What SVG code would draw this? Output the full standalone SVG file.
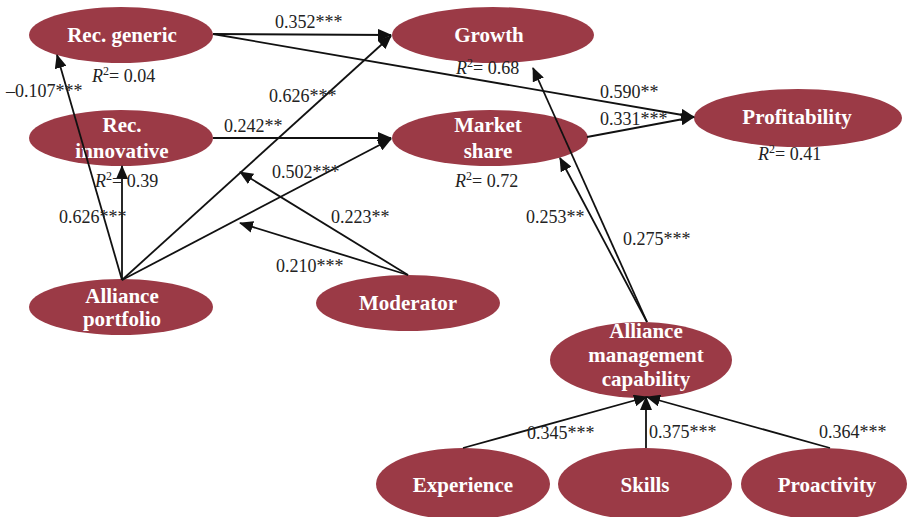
<svg xmlns="http://www.w3.org/2000/svg" width="908" height="517" viewBox="0 0 908 517">
<defs>
<marker id="ah" markerUnits="userSpaceOnUse" markerWidth="14" markerHeight="12" viewBox="0 0 14 12" refX="13" refY="6" orient="auto">
<path d="M0,0 L14,6 L0,12 Z" fill="#111"/>
</marker>
<style>
.node ellipse{fill:#9b3a46;}
.node text{font-family:'Liberation Serif','DejaVu Serif',serif;font-weight:bold;font-size:21px;fill:#fff;text-anchor:middle;}
.conn line{stroke:#111;stroke-width:1.8;fill:none;}
.conn line.a{marker-end:url(#ah);}
.lbl{font-family:'Liberation Serif','DejaVu Serif',serif;font-size:18px;fill:#222;}
.r2{font-family:'Liberation Serif','DejaVu Serif',serif;font-size:18px;fill:#222;}
</style>
</defs>
<rect width="908" height="517" fill="#fff"/>

<g id="rec-generic" class="node"><ellipse cx="121" cy="35" rx="92" ry="28"/><text x="122" y="42">Rec. generic</text></g>
<g id="rec-innovative" class="node"><ellipse cx="121" cy="138" rx="92" ry="28"/><text x="122" y="132">Rec.</text><text x="122" y="158">innovative</text></g>
<g id="growth" class="node"><ellipse cx="493" cy="35" rx="101" ry="28"/><text x="489" y="42">Growth</text></g>
<g id="market-share" class="node"><ellipse cx="490" cy="138" rx="98" ry="28"/><text x="488" y="132">Market</text><text x="488" y="158">share</text></g>
<g id="profitability" class="node"><ellipse cx="798" cy="118" rx="104" ry="29"/><text x="797" y="124">Profitability</text></g>
<g id="alliance-portfolio" class="node"><ellipse cx="121" cy="307" rx="92" ry="28"/><text x="122" y="303">Alliance</text><text x="122" y="326">portfolio</text></g>
<g id="moderator" class="node"><ellipse cx="408" cy="303" rx="92" ry="28"/><text x="408" y="310">Moderator</text></g>
<g id="amc" class="node"><ellipse cx="641" cy="360" rx="91" ry="38"/><text x="646" y="338">Alliance</text><text x="646" y="362">management</text><text x="646" y="386">capability</text></g>
<g id="experience" class="node"><ellipse cx="463" cy="484" rx="87" ry="36"/><text x="463" y="492">Experience</text></g>
<g id="skills" class="node"><ellipse cx="645" cy="484" rx="87" ry="36"/><text x="645" y="492">Skills</text></g>
<g id="proactivity" class="node"><ellipse cx="824" cy="484" rx="83" ry="36"/><text x="827" y="492">Proactivity</text></g>

<g id="connectors" class="conn">
<line class="a" x1="213" y1="34" x2="391" y2="35"/>
<line class="a" x1="213" y1="34" x2="694" y2="117"/>
<line class="a" x1="213" y1="138" x2="391" y2="138"/>
<line class="a" x1="587" y1="137" x2="694" y2="117"/>
<line class="a" x1="122" y1="280" x2="57" y2="55"/>
<line class="a" x1="122" y1="280" x2="122" y2="166"/>
<line class="a" x1="122" y1="280" x2="391" y2="36"/>
<line class="a" x1="122" y1="280" x2="391" y2="139"/>
<line class="a" x1="408" y1="275" x2="240" y2="172"/>
<line class="a" x1="408" y1="275" x2="240" y2="223"/>
<line class="a" x1="647" y1="322" x2="533" y2="68"/>
<line class="a" x1="647" y1="322" x2="560" y2="158"/>
<line class="a" x1="463" y1="448" x2="647" y2="397"/>
<line class="a" x1="646" y1="448" x2="646" y2="397"/>
<line class="a" x1="830" y1="448" x2="647" y2="397"/>
</g>

<g id="labels">
<text class="lbl" x="275" y="28">0.352***</text>
<text class="lbl" x="6" y="97">–0.107***</text>
<text class="lbl" x="269" y="102">0.626***</text>
<text class="lbl" x="224" y="132">0.242**</text>
<text class="lbl" x="272" y="178">0.502***</text>
<text class="lbl" x="59" y="223">0.626***</text>
<text class="lbl" x="331" y="223">0.223**</text>
<text class="lbl" x="276" y="272">0.210***</text>
<text class="lbl" x="600" y="98">0.590**</text>
<text class="lbl" x="600" y="125">0.331***</text>
<text class="lbl" x="526" y="223">0.253**</text>
<text class="lbl" x="623" y="245">0.275***</text>
<text class="lbl" x="527" y="439">0.345***</text>
<text class="lbl" x="649" y="438">0.375***</text>
<text class="lbl" x="819" y="438">0.364***</text>
<text class="r2" x="92" y="82"><tspan font-style="italic">R</tspan><tspan font-size="12" dy="-7">2</tspan><tspan dy="7">= 0.04</tspan></text>
<text class="r2" x="95" y="187"><tspan font-style="italic">R</tspan><tspan font-size="12" dy="-7">2</tspan><tspan dy="7">= 0.39</tspan></text>
<text class="r2" x="456" y="74"><tspan font-style="italic">R</tspan><tspan font-size="12" dy="-7">2</tspan><tspan dy="7">= 0.68</tspan></text>
<text class="r2" x="455" y="187"><tspan font-style="italic">R</tspan><tspan font-size="12" dy="-7">2</tspan><tspan dy="7">= 0.72</tspan></text>
<text class="r2" x="758" y="160"><tspan font-style="italic">R</tspan><tspan font-size="12" dy="-7">2</tspan><tspan dy="7">= 0.41</tspan></text>
</g>
</svg>
